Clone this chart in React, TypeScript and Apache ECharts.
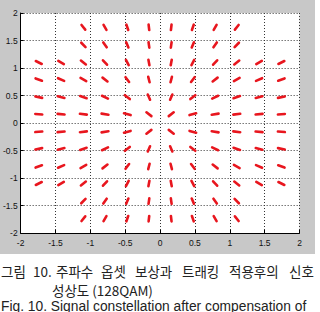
import React, { useEffect, useRef } from "react";
import * as echarts from "echarts";

// Constellation levels (I and Q)
const LEVELS = [-1.74, -1.42, -1.1, -0.79, -0.47, -0.16, 0.16, 0.47, 0.79, 1.1, 1.42, 1.74];
// 128QAM cross: corner blocks beyond this magnitude on both axes are empty
const CORNER_LIMIT = 1.25;
// radial half-spread of each cluster (data units)
const SPREAD = 0.05;
const AXIS_TICKS = [-2, -1.5, -1, -0.5, 0, 0.5, 1, 1.5, 2];
const TICK_LABELS = ["-2", "-1.5", "-1", "-0.5", "0", "0.5", "1", "1.5", "2"];
const CAPTION_KO_1_WORDS = ["그림", "10.", "주파수", "옵셋", "보상과", "트래킹", "적용후의", "신호"];
const CAPTION_KO_1_X = [1, 33, 56, 101, 135, 182, 229, 289];
const CAPTION_KO_2 = "성상도 (128QAM)";
const CAPTION_EN = "Fig. 10. Signal constellation after compensation of";

const points: number[][] = [];
for (const q of LEVELS) {
  for (const i of LEVELS) {
    if (Math.abs(i) > CORNER_LIMIT && Math.abs(q) > CORNER_LIMIT) continue;
    points.push([i, q]);
  }
}

const labelFor = (v: number) => {
  const idx = AXIS_TICKS.findIndex((t) => Math.abs(t - v) < 1e-9);
  return idx >= 0 ? TICK_LABELS[idx] : "";
};

const FRAME_W = 315;
const FRAME_H = 254;
const FRAME_FILL = "#c8c8c8";

export default function App() {
  const ref = useRef<HTMLDivElement>(null);
  useEffect(() => {
    document.body.style.margin = "0";
    const chart = echarts.init(ref.current!, null, { renderer: "svg" });
    const axisCommon = {
      type: "value" as const,
      min: -2,
      max: 2,
      interval: 0.5,
      axisLine: { show: true, onZero: false, lineStyle: { color: "#000", width: 1 } },
      axisTick: { show: true, inside: true, length: 3, lineStyle: { color: "#000" } },
      splitLine: { show: true, lineStyle: { color: "#333", type: [1, 2], width: 1 } },
    };
    const koText = (text: string, x: number, y: number) => ({
      type: "text",
      x,
      y,
      z: 10,
      style: {
        text,
        fontSize: 13.5,
        fontFamily: "Noto Sans CJK KR",
        fill: "#222",
        align: "left",
        verticalAlign: "middle",
      },
    });
    chart.setOption({
      animation: false,
      grid: {
        left: 20,
        top: 13,
        right: 20.5,
        bottom: 79,
        show: false,
      },
      xAxis: {
        ...axisCommon,
        z: 5,
        axisLabel: {
          fontSize: 8.5,
          color: "#111",
          margin: 5,
          fontFamily: "Liberation Sans",
          formatter: labelFor,
        },
      },
      yAxis: {
        ...axisCommon,
        z: 5,
        axisLabel: {
          fontSize: 8.5,
          color: "#111",
          margin: 3,
          fontFamily: "Liberation Sans",
          formatter: labelFor,
        },
      },
      graphic: [
        ...CAPTION_KO_1_WORDS.map((w, i) => koText(w, CAPTION_KO_1_X[i], 271)),
        koText(CAPTION_KO_2, 52, 290),
        {
          type: "text",
          x: 1,
          y: 306,
          z: 10,
          style: {
            text: CAPTION_EN,
            fontSize: 13.8,
            fontFamily: "Liberation Sans",
            fill: "#222",
            align: "left",
            verticalAlign: "middle",
          },
        },
      ],
      series: [
        {
          // grey figure frame around the white axes box
          type: "custom",
          z: 0,
          clip: false,
          silent: true,
          data: [[-2, -2, 2, 2]],
          renderItem: (_params: any, api: any) => {
            const bl = api.coord([api.value(0), api.value(1)]);
            const tr = api.coord([api.value(2), api.value(3)]);
            const l = bl[0];
            const b = bl[1];
            const r = tr[0];
            const t = tr[1];
            const st = { fill: FRAME_FILL };
            return {
              type: "group",
              children: [
                { type: "rect", shape: { x: 0, y: 0, width: FRAME_W, height: t }, style: st },
                { type: "rect", shape: { x: 0, y: t, width: l, height: b - t }, style: st },
                { type: "rect", shape: { x: r, y: t, width: FRAME_W - r, height: b - t }, style: st },
                { type: "rect", shape: { x: 0, y: b, width: FRAME_W, height: FRAME_H - b }, style: st },
              ],
            };
          },
        },
        {
          type: "custom",
          z: 6,
          data: points,
          encode: { x: 0, y: 1 },
          renderItem: (_params: any, api: any) => {
            const x = api.value(0);
            const y = api.value(1);
            const r = Math.hypot(x, y);
            const k = SPREAD / r;
            const p1 = api.coord([x * (1 - k), y * (1 - k)]);
            const p2 = api.coord([x * (1 + k), y * (1 + k)]);
            return {
              type: "line",
              shape: { x1: p1[0], y1: p1[1], x2: p2[0], y2: p2[1] },
              style: { stroke: "#e8161e", lineWidth: 2.6, lineCap: "round" },
            };
          },
        },
      ],
    });
    return () => chart.dispose();
  }, []);
  return <div ref={ref} style={{ width: 320, height: 312, background: "#fff" }} />;
}
